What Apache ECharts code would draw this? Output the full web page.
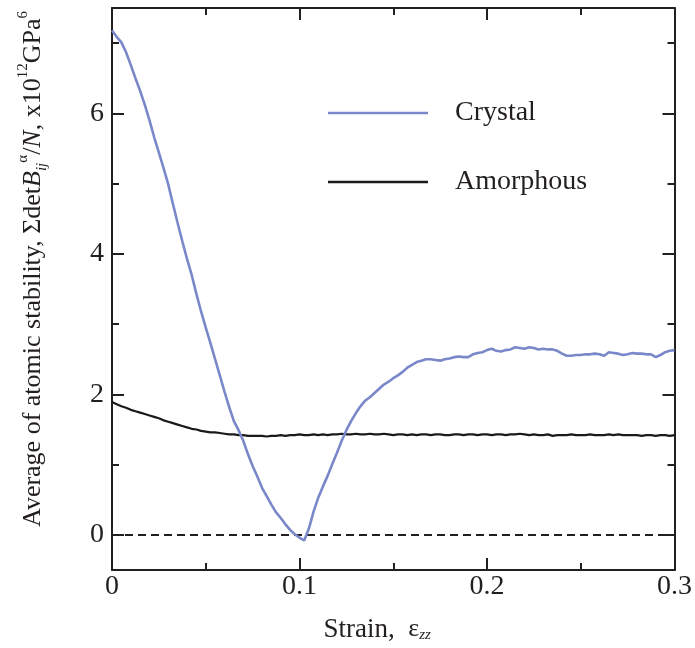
<!DOCTYPE html>
<html>
<head>
<meta charset="utf-8">
<script src="https://cdn.jsdelivr.net/npm/echarts@6/dist/echarts.min.js"></script>
<style>html,body{margin:0;padding:0;background:#fff;}#chart{width:695px;height:648px;}</style>
</head>
<body>
<div id="chart"></div>
<script>
const strain = [
0, 0.0025, 0.005, 0.0075, 0.01, 0.0125, 0.015, 0.0175, 0.02, 0.0225,
0.025, 0.0275, 0.03, 0.0325, 0.035, 0.0375, 0.04, 0.0425, 0.045, 0.0475,
0.05, 0.0525, 0.055, 0.0575, 0.06, 0.0625, 0.065, 0.0675, 0.07, 0.0725,
0.075, 0.0775, 0.08, 0.0825, 0.085, 0.0875, 0.09, 0.0925, 0.095, 0.0975,
0.1, 0.1025, 0.105, 0.1075, 0.11, 0.1125, 0.115, 0.1175, 0.12, 0.1225,
0.125, 0.1275, 0.13, 0.1325, 0.135, 0.1375, 0.14, 0.1425, 0.145, 0.1475,
0.15, 0.1525, 0.155, 0.1575, 0.16, 0.1625, 0.165, 0.1675, 0.17, 0.1725,
0.175, 0.1775, 0.18, 0.1825, 0.185, 0.1875, 0.19, 0.1925, 0.195, 0.1975,
0.2, 0.2025, 0.205, 0.2075, 0.21, 0.2125, 0.215, 0.2175, 0.22, 0.2225,
0.225, 0.2275, 0.23, 0.2325, 0.235, 0.2375, 0.24, 0.2425, 0.245, 0.2475,
0.25, 0.2525, 0.255, 0.2575, 0.26, 0.2625, 0.265, 0.2675, 0.27, 0.2725,
0.275, 0.2775, 0.28, 0.2825, 0.285, 0.2875, 0.29, 0.2925, 0.295, 0.2975,
0.3
];
const crystal = [
7.18, 7.09, 7.01, 6.87, 6.69, 6.50, 6.32, 6.12, 5.90, 5.66,
5.44, 5.22, 4.99, 4.71, 4.44, 4.18, 3.93, 3.70, 3.43, 3.18,
2.95, 2.73, 2.50, 2.27, 2.04, 1.82, 1.62, 1.49, 1.34, 1.15,
0.98, 0.83, 0.67, 0.55, 0.43, 0.32, 0.24, 0.15, 0.07, 0.01,
-0.04, -0.08, 0.09, 0.33, 0.53, 0.69, 0.84, 1.01, 1.17, 1.34,
1.49, 1.62, 1.73, 1.83, 1.91, 1.96, 2.02, 2.08, 2.14, 2.18,
2.23, 2.27, 2.32, 2.38, 2.42, 2.46, 2.48, 2.50, 2.50, 2.49,
2.48, 2.50, 2.51, 2.53, 2.54, 2.53, 2.53, 2.57, 2.59, 2.60,
2.63, 2.65, 2.62, 2.61, 2.63, 2.64, 2.67, 2.66, 2.65, 2.67,
2.66, 2.64, 2.65, 2.64, 2.64, 2.62, 2.58, 2.55, 2.55, 2.56,
2.56, 2.57, 2.57, 2.58, 2.57, 2.55, 2.60, 2.59, 2.58, 2.56,
2.57, 2.59, 2.58, 2.58, 2.57, 2.57, 2.53, 2.56, 2.60, 2.62,
2.63
];
const amorphous = [
1.89, 1.86, 1.83, 1.81, 1.78, 1.76, 1.74, 1.72, 1.70, 1.68,
1.66, 1.63, 1.61, 1.59, 1.57, 1.55, 1.53, 1.51, 1.50, 1.48,
1.47, 1.46, 1.46, 1.45, 1.44, 1.43, 1.43, 1.42, 1.42, 1.41,
1.41, 1.41, 1.41, 1.40, 1.41, 1.41, 1.42, 1.41, 1.42, 1.42,
1.43, 1.42, 1.42, 1.43, 1.42, 1.43, 1.42, 1.43, 1.43, 1.44,
1.43, 1.43, 1.44, 1.43, 1.43, 1.44, 1.43, 1.43, 1.44, 1.43,
1.42, 1.43, 1.43, 1.42, 1.43, 1.42, 1.43, 1.43, 1.42, 1.43,
1.43, 1.42, 1.42, 1.43, 1.43, 1.42, 1.43, 1.43, 1.42, 1.43,
1.43, 1.42, 1.43, 1.43, 1.42, 1.43, 1.43, 1.44, 1.43, 1.42,
1.43, 1.42, 1.42, 1.43, 1.41, 1.42, 1.42, 1.42, 1.43, 1.42,
1.42, 1.42, 1.43, 1.42, 1.42, 1.42, 1.43, 1.42, 1.43, 1.42,
1.42, 1.42, 1.42, 1.41, 1.42, 1.42, 1.41, 1.42, 1.42, 1.41,
1.42
];
const zeroLineX = [0, 0.3];
const zeroLineY = [0, 0];
const yMajorTicks = [0, 2, 4, 6];
const yMinorTicks = [1, 3, 5, 7];
const seriesNames = ['Crystal', 'Amorphous'];

const FONT = 'Liberation Serif';
const INK = '#231f20';
const BLUE = '#7a88c9';

const pairs = (xs, ys) => xs.map((x, i) => [x, ys[i]]);

const yBase = {
  type: 'value', min: -0.5, max: 7.5,
  splitLine: { show: false },
  axisLine: { show: true, lineStyle: { color: INK, width: 2 } },
};

const chart = echarts.init(document.getElementById('chart'), null, { renderer: 'canvas' });
chart.setOption({
  animation: false,
  backgroundColor: '#fff',
  grid: { left: 112, right: 18, top: 8, bottom: 76, containLabel: false },
  legend: {
    orient: 'vertical', left: 323, top: 94,
    data: seriesNames,
    icon: 'rect',
    itemWidth: 100, itemHeight: 2.5, itemGap: 41,
    textStyle: { fontFamily: FONT, fontSize: 28, color: INK, padding: [0, 0, 0, 22] }
  },
  xAxis: [
    {
      type: 'value', position: 'bottom', min: 0, max: 0.3, interval: 0.1,
      splitLine: { show: false },
      axisLine: { show: true, onZero: false, lineStyle: { color: INK, width: 2 } },
      axisTick: { show: true, inside: true, length: 12, lineStyle: { color: INK, width: 2 } },
      minorTick: { show: true, splitNumber: 2, length: 7, lineStyle: { color: INK, width: 2 } },
      axisLabel: { fontFamily: FONT, fontSize: 28, color: INK, margin: 3 },
      name: 'Strain,  {e|ε}{s|zz}',
      nameLocation: 'middle', nameGap: 46,
      nameTextStyle: {
        fontFamily: FONT, fontSize: 27, color: INK, padding: [0, 32, 0, 0],
        rich: {
          e: { fontFamily: FONT, fontSize: 26, color: INK },
          s: { fontFamily: FONT, fontSize: 15, fontStyle: 'italic', color: INK, verticalAlign: 'bottom', padding: [8, 0, 0, 0] }
        }
      }
    },
    {
      type: 'value', position: 'top', min: 0, max: 0.3, interval: 0.1,
      splitLine: { show: false },
      axisLine: { show: true, onZero: false, lineStyle: { color: INK, width: 2 } },
      axisTick: { show: true, inside: true, length: 12, lineStyle: { color: INK, width: 2 } },
      minorTick: { show: true, splitNumber: 2, length: 7, lineStyle: { color: INK, width: 2 } },
      axisLabel: { show: false }
    }
  ],
  yAxis: [
    Object.assign({}, yBase, {
      position: 'left',
      axisTick: { show: true, inside: true, length: 12, customValues: yMajorTicks, lineStyle: { color: INK, width: 2 } },
      axisLabel: { customValues: yMajorTicks, fontFamily: FONT, fontSize: 28, color: INK, margin: 8 },
      name: 'Average of atomic stability, Σdet{i|B}{sub|ij}{sup|α}/{i|N}, x10{sup|12}GPa{sup|6}',
      nameLocation: 'middle', nameGap: 62,
      nameTextStyle: {
        fontFamily: FONT, fontSize: 26, color: INK, lineHeight: 34, padding: [0, 0, 0, 40],
        rich: {
          i: { fontFamily: FONT, fontSize: 26, fontStyle: 'italic', color: INK, lineHeight: 34 },
          sub: { fontFamily: FONT, fontSize: 15, fontStyle: 'italic', color: INK, verticalAlign: 'bottom', lineHeight: 34 },
          sup: { fontFamily: FONT, fontSize: 15, color: INK, verticalAlign: 'top', lineHeight: 34 }
        }
      }
    }),
    Object.assign({}, yBase, {
      position: 'left',
      axisLine: { show: false },
      axisTick: { show: true, inside: true, length: 7, customValues: yMinorTicks, lineStyle: { color: INK, width: 2 } },
      axisLabel: { show: false }
    }),
    Object.assign({}, yBase, {
      position: 'right',
      axisTick: { show: true, inside: true, length: 12, customValues: yMajorTicks, lineStyle: { color: INK, width: 2 } },
      axisLabel: { show: false }
    }),
    Object.assign({}, yBase, {
      position: 'right',
      axisLine: { show: false },
      axisTick: { show: true, inside: true, length: 7, customValues: yMinorTicks, lineStyle: { color: INK, width: 2 } },
      axisLabel: { show: false }
    })
  ],
  series: [
    {
      name: 'zero', type: 'line', xAxisIndex: 0, yAxisIndex: 0,
      data: pairs(zeroLineX, zeroLineY), symbol: 'none', silent: true,
      lineStyle: { color: INK, width: 2, type: [8, 5] }, z: 1
    },
    {
      name: seriesNames[1], type: 'line', xAxisIndex: 0, yAxisIndex: 0,
      data: pairs(strain, amorphous), symbol: 'none', showSymbol: false,
      lineStyle: { color: '#1a1a1a', width: 2.2 }, itemStyle: { color: '#1a1a1a' }, z: 2
    },
    {
      name: seriesNames[0], type: 'line', xAxisIndex: 0, yAxisIndex: 0,
      data: pairs(strain, crystal), symbol: 'none', showSymbol: false,
      lineStyle: { color: BLUE, width: 2.6 }, itemStyle: { color: BLUE }, z: 3
    }
  ]
});
</script>
</body>
</html>
